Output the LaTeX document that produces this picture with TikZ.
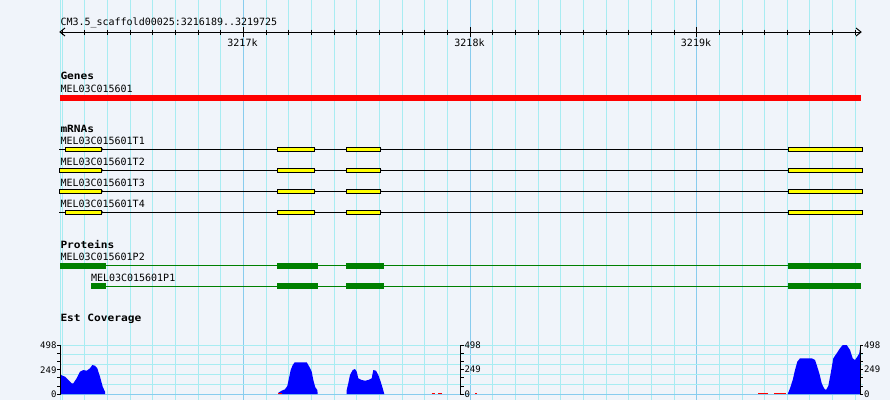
\documentclass[tikz,border=0pt]{standalone}
\usepackage{fontspec}
\newfontfamily\gbfont{DejaVu Sans Mono}
\usetikzlibrary{positioning}
\definecolor{bgcol}{HTML}{F0F4FA}
\definecolor{gridcol}{HTML}{A8ECF2}
\definecolor{majorcol}{HTML}{88CCEE}
\definecolor{exoncol}{HTML}{FFFF00}
\definecolor{protcol}{HTML}{008000}
\definecolor{genecol}{HTML}{FF0000}
\definecolor{estcol}{HTML}{0000FF}
\newcommand{\trackname}[1]{\scalebox{1.12}[1]{\bfseries #1}}
\newcommand{\exon}[3]{%
  \draw [black, fill=exoncol] (#1,#3-2.2) rectangle (#2,#3+2.2);
  \fill [black] (#2,#3-1.3) -- (#2+2,#3) -- (#2,#3+1.3);}
\newcommand{\cds}[3]{\fill [protcol] (#1,#3-3) rectangle (#2,#3+3);}

\begin{document}
\begin{tikzpicture}[x=1pt,y=-1pt,line width=1pt]
		\tikzstyle{every node}+=[inner sep=0pt,font=\gbfont\fontsize{10}{12}\selectfont]
		\tikzstyle{axlabel}=[font=\gbfont\fontsize{9}{11}\selectfont]
		\fill [bgcol] (0,0) rectangle (890,400);
		\useasboundingbox (0,0) rectangle (890,400);
		\draw [gridcol] (60,0) -- (60,400);
		\foreach \k in {0,...,35}
			\draw [gridcol] ({62.2+22.66*\k},0) -- ({62.2+22.66*\k},400);
		\foreach \k in {8,18,28}
			\draw [majorcol] ({62.2+22.66*\k},0) -- ({62.2+22.66*\k},400);
		\foreach \y in {345,354.8,364.6,374.4,384.2}
			\draw [gridcol] (60,\y) -- (863,\y);
		\draw [majorcol] (60,394.5) -- (863,394.5);
		\node [anchor=base west] (title) at (60,25) {CM3.5\_scaffold00025:3216189..3219725};
		\draw [black] (60,32) -- (861,32);
		\draw [black] (65,28) -- (60,32) -- (65,36);
		\draw [black] (856,28) -- (861,32) -- (856,36);
		\foreach \k in {0,...,35}
			\draw [black] ({62.2+22.66*\k},29.5) -- ++(0,5);
		\draw [black] (243.5,27) -- (243.5,37);
		\draw [black] (470.1,27) -- (470.1,37);
		\draw [black] (696.7,27) -- (696.7,37);
		\node [anchor=base] (k3217) at (242.5,46) {3217k};
		\node [anchor=base] (k3218) at (469.5,46) {3218k};
		\node [anchor=base] (k3219) at (696,46) {3219k};
		\node [anchor=base west] (genes) at (60,79.3) {\trackname{Genes}};
		\node [anchor=base west] (gene) at (60,92.3) {MEL03C015601};
		\fill [genecol] (60,95) rectangle (861,101);
		\node [anchor=base west] (mrnas) at (60,132.3) {\trackname{mRNAs}};
		\node [anchor=base west] (t1) at (60,144.3) {MEL03C015601T1};
		\node [anchor=base west] (t2) at (60,165.3) {MEL03C015601T2};
		\node [anchor=base west] (t3) at (60,186.5) {MEL03C015601T3};
		\node [anchor=base west] (t4) at (60,207.5) {MEL03C015601T4};
		\draw [black] (59,149.3) -- (862,149.3);
		\exon{65}{101.7}{149.3} \exon{277.3}{314}{149.3} \exon{346.3}{380}{149.3}
		\draw [black, fill=exoncol] (788.3,147.1) rectangle (862,151.5);
		\draw [black] (59,170.3) -- (862,170.3);
		\exon{59}{101.7}{170.3} \exon{277.3}{314}{170.3} \exon{346.3}{380}{170.3}
		\draw [black, fill=exoncol] (788.3,168.1) rectangle (862,172.5);
		\draw [black] (59,191.3) -- (862,191.3);
		\exon{59}{101.7}{191.3} \exon{277.3}{314}{191.3} \exon{346.3}{380}{191.3}
		\draw [black, fill=exoncol] (788.3,189.1) rectangle (862,193.5);
		\draw [black] (59,212.3) -- (862,212.3);
		\exon{65}{101.7}{212.3} \exon{277.3}{314}{212.3} \exon{346.3}{380}{212.3}
		\draw [black, fill=exoncol] (788.3,210.1) rectangle (862,214.5);
		\node [anchor=base west] (proteins) at (60,248.3) {\trackname{Proteins}};
		\node [anchor=base west] (p2) at (60,260) {MEL03C015601P2};
		\node [anchor=base west] (p1) at (90.5,281.3) {MEL03C015601P1};
		\draw [protcol] (60,265.8) -- (861,265.8);
		\cds{60}{106}{265.8} \cds{277}{318}{265.8} \cds{346}{384}{265.8} \cds{788}{861}{265.8}
		\draw [protcol] (91,286.3) -- (861,286.3);
		\cds{91}{106}{286.3} \cds{277}{318}{286.3} \cds{346}{384}{286.3} \cds{788}{861}{286.3}
		\node [anchor=base west] (est) at (60,321.3) {\trackname{Est Coverage}};
		\fill [estcol] (60,394) -- (60,375) -- (61,375) -- (65,376.7) -- (68.3,380) -- (71.7,383.3)
			-- (73.3,383.3) -- (76.7,378.3) -- (80,371.7) -- (83.3,370) -- (86.7,370.7) -- (90,368.3)
			-- (92.3,365) -- (95,365.7) -- (97.3,368.3) -- (100,376.7) -- (102.7,386.7)
			-- (105,391.7) -- (105,394) -- cycle;
		\fill [estcol] (278.3,394) -- (278.3,392.7) -- (281.7,390.7) -- (285,389.3) -- (287.3,386)
			-- (289.3,376.7) -- (290.7,370) -- (292.7,365) -- (294.7,362.3) -- (306.7,362.3)
			-- (309.3,366.7) -- (311.7,371.7) -- (313.3,380) -- (315.3,387.3) -- (317.3,390)
			-- (317.7,394) -- cycle;
		\fill [estcol] (346.7,394) -- (346.7,390) -- (348.3,383.3) -- (350,375) -- (352.7,370)
			-- (355,369) -- (356.7,371.7) -- (358.3,378.3) -- (361.7,380) -- (365,380.7)
			-- (368.3,380) -- (371.7,378.3) -- (373.3,370) -- (376,370.7) -- (378.3,375)
			-- (380.7,381.7) -- (382.7,388.3) -- (384.3,394) -- cycle;
		\fill [estcol] (787.7,394) -- (790,388.3) -- (792.7,380) -- (795,370) -- (797.3,361.7)
			-- (800,358.3) -- (811.7,358.3) -- (815,360) -- (816.7,365) -- (819.3,373.3)
			-- (821.7,383.3) -- (824,388.3) -- (826,390) -- (828.3,386) -- (830.7,373.3)
			-- (833.3,358.3) -- (836.7,353.3) -- (840,348.3) -- (842.7,345) -- (846.7,345)
			-- (850,350) -- (852.7,358.3) -- (855,360) -- (857.3,356.7) -- (859.3,353.3)
			-- (860,348.3) -- (860,394) -- cycle;
		\draw [genecol] (278.3,393.5) -- (281.7,393.5);
		\draw [genecol] (431.7,393.5) -- (435,393.5);
		\draw [genecol] (438,393.5) -- (441.7,393.5);
		\draw [genecol] (475,393.5) -- (477.3,393.5);
		\draw [genecol] (758,393.5) -- (768.3,393.5);
		\draw [genecol] (774,393.5) -- (786.3,393.5);
		\draw [black] (60,345) -- (60,394.5);
		\foreach \t in {0,...,6}
			\draw [black] (57,{345+8.2*\t}) -- (60,{345+8.2*\t});
		\node [axlabel, anchor=base east] (lmax) at (57,348.3) {498};
		\node [axlabel, anchor=base east] (lmid) at (57,373) {249};
		\node [axlabel, anchor=base east] (lzero) at (57,397) {0};
		\draw [black] (460.6,345) -- (460.6,394.5);
		\foreach \t in {0,...,6}
			\draw [black] (460.6,{345+8.2*\t}) -- (463.6,{345+8.2*\t});
		\node [axlabel, anchor=base west] (mmax) at (464,348.3) {498};
		\node [axlabel, anchor=base west] (mmid) at (464,372.5) {249};
		\node [axlabel, anchor=base west] (mzero) at (464,397) {0};
		\draw [black] (860,345) -- (860,394.5);
		\foreach \t in {0,...,6}
			\draw [black] (860,{345+8.2*\t}) -- (863,{345+8.2*\t});
		\node [axlabel, anchor=base west] (rmax) at (863.5,348.3) {498};
		\node [axlabel, anchor=base west] (rmid) at (863.5,372.5) {249};
		\node [axlabel, anchor=base west] (rzero) at (863.5,397) {0};
		\end{tikzpicture}
\end{document}
